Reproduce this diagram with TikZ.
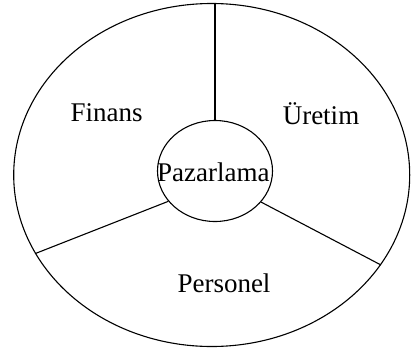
\documentclass[tikz,border=0pt]{standalone}
\usepackage{fontspec}
\setmainfont{Liberation Serif}
\usetikzlibrary{shapes.geometric}

\begin{document}
\begin{tikzpicture}[x=1pt, y=-1pt, line width=1.1pt,
        bolum/.style={anchor=base, font=\fontsize{27}{31}\selectfont},
        halka/.style={draw, ellipse, inner sep=0pt}]
        \useasboundingbox (0,0) rectangle (414,353);
        \node[halka, minimum width=396pt, minimum height=343pt] (isletme) at (211.7,175) {};
        \node[halka, minimum width=115pt, minimum height=101pt] (pazar) at (215,171) {};
        % bolum cizgileri
        \draw (pazar.north) -- (pazar.north |- isletme.north);
        \draw (pazar.213.8) -- (isletme.204.8);
        \draw (pazar.326) -- (isletme.332.6);
        \foreach \ad/\x/\y/\yazi in {finans/106.7/121.7/Finans, uretim/321/124/Üretim,
                pazarlama/213.3/181.7/Pazarlama, personel/224/292.7/Personel} {
            \node[bolum, inner sep=0pt] (\ad) at (\x,\y) {\yazi};
        }
    \end{tikzpicture}
\end{document}
